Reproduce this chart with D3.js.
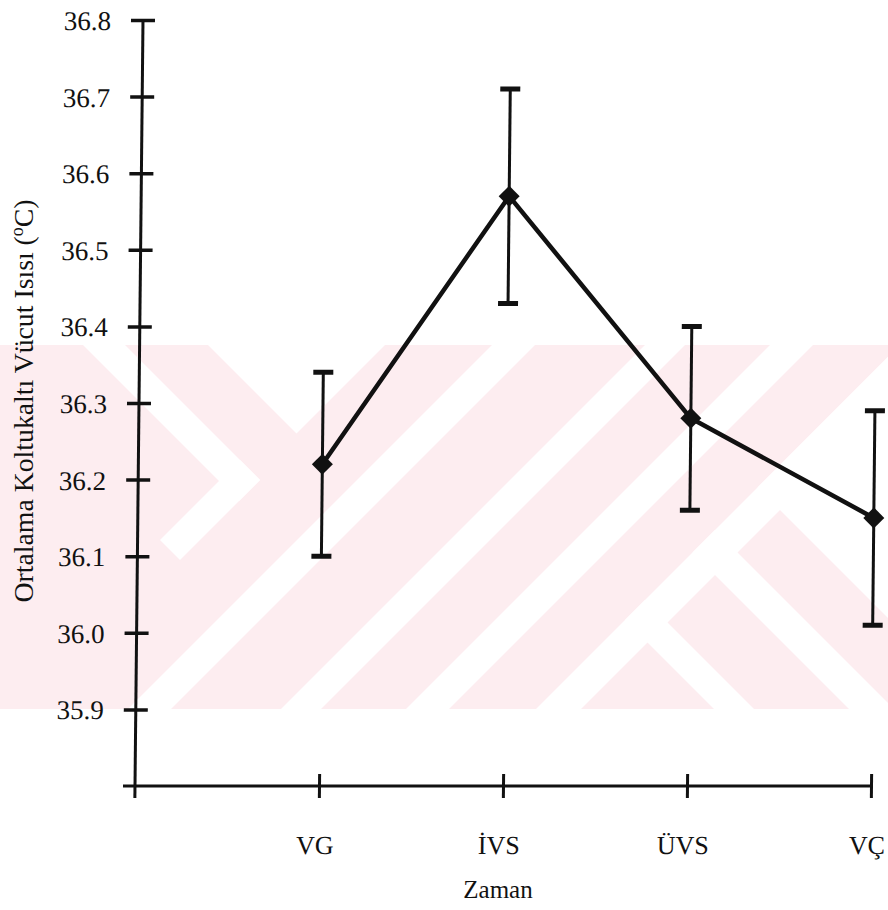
<!DOCTYPE html>
<html>
<head>
<meta charset="utf-8">
<script src="https://cdn.jsdelivr.net/npm/d3@7"></script>
<style>
html,body{margin:0;padding:0;background:#fff;}
svg{display:block;}
text{font-family:"Liberation Serif","Times New Roman",serif;fill:#111;}
</style>
</head>
<body>
<svg id="chart" width="888" height="910"></svg>
<script>
// ---- data ----
const categories = ["VG", "İVS", "ÜVS", "VÇ"];
const means = [36.22, 36.57, 36.28, 36.15];
const errors = [0.12, 0.14, 0.12, 0.14];
const yTicks = [35.9, 36.0, 36.1, 36.2, 36.3, 36.4, 36.5, 36.6, 36.7, 36.8];
const yLabels = ["35.9", "36.0", "36.1", "36.2", "36.3", "36.4", "36.5", "36.6", "36.7", "36.8"];
const xTitle = "Zaman";
const yTitle = "Ortalama Koltukaltı Vücut Isısı (";

const svg = d3.select("#chart");
const W = 888, H = 910;

// ---- watermark (background) ----
const bandTop = 345, bandBot = 709;
svg.append("defs").append("clipPath").attr("id", "band")
  .append("rect").attr("x", 0).attr("y", bandTop).attr("width", W).attr("height", bandBot - bandTop);
const wm = svg.append("g").attr("clip-path", "url(#band)");
wm.append("rect").attr("x", 0).attr("y", bandTop).attr("width", W).attr("height", bandBot - bandTop)
  .attr("fill", "#fdedf0");
// white stripes described as rectangles in (s = x+y, d = y-x) space
const stripes = [
  [[-2000, 730], [-2000, 137]],
  [[-2000, 740], [220, 262]],
  [[700, 740], [220, 380]],
  [[837, 880], [-3000, 3000]],
  [[990, 1030], [-3000, 3000]],
  [[1115, 1158], [-3000, 3000]],
  [[1245, 1290], [-3000, 3000]],
  [[1245, 4000], [-3000, -270]],
  [[1245, 4000], [-185, -140]],
  [[1245, 4000], [-45, -5]]
];
const sd = (s, d) => [(s - d) / 2, (s + d) / 2];
wm.selectAll("polygon").data(stripes).join("polygon")
  .attr("fill", "#ffffff")
  .attr("points", r => [sd(r[0][0], r[1][0]), sd(r[0][1], r[1][0]), sd(r[0][1], r[1][1]), sd(r[0][0], r[1][1])]
    .map(p => p.join(",")).join(" "));

// ---- chart (slightly sheared like the scan) ----
const k = 8 / 766, y0 = 786;
const g = svg.append("g").attr("transform", `translate(${k * y0},0) skewX(${-Math.atan(k) * 180 / Math.PI})`);

const x = d3.scaleLinear().domain([0, 4]).range([135, 871]);
const y = d3.scaleLinear().domain([35.8, 36.8]).range([786, 20]);
const ink = "#111";

// y axis
const ya = g.append("g").attr("transform", `translate(${x(0)},0)`)
  .call(d3.axisLeft(y).tickValues(yTicks).tickFormat((d, i) => yLabels[i]).tickSize(0).tickPadding(32));
ya.select(".domain").remove();
ya.selectAll(".tick text").attr("font-size", 27).attr("font-family", "Liberation Serif").attr("fill", ink).attr("dy", "0.35em");
ya.selectAll(".tick").append("line").attr("x1", -12).attr("x2", 12).attr("stroke", ink).attr("stroke-width", 3.5);
g.append("line").attr("x1", x(0)).attr("x2", x(0)).attr("y1", y(36.8)).attr("y2", y(35.8) + 12)
  .attr("stroke", ink).attr("stroke-width", 3);

// x axis
const xa = g.append("g").attr("transform", `translate(0,${y(35.8)})`)
  .call(d3.axisBottom(x).tickValues([1, 2, 3, 4]).tickFormat((d) => categories[d - 1]).tickSize(0).tickPadding(50));
xa.select(".domain").remove();
xa.selectAll(".tick text").attr("font-size", 26).attr("font-family", "Liberation Serif").attr("fill", ink).attr("dx", -4);
xa.selectAll(".tick").append("line").attr("y1", -12).attr("y2", 12).attr("stroke", ink).attr("stroke-width", 3);
g.append("line").attr("x1", x(0) - 12).attr("x2", x(4)).attr("y1", y(35.8)).attr("y2", y(35.8))
  .attr("stroke", ink).attr("stroke-width", 3);

// error bars
const pts = means.map((m, i) => ({ i: i + 1, m, e: errors[i] }));
const eb = g.append("g");
eb.selectAll("line.v").data(pts).join("line").attr("class", "v")
  .attr("x1", d => x(d.i)).attr("x2", d => x(d.i))
  .attr("y1", d => y(d.m + d.e)).attr("y2", d => y(d.m - d.e))
  .attr("stroke", ink).attr("stroke-width", 3);
eb.selectAll("line.cu").data(pts).join("line").attr("class", "cu")
  .attr("x1", d => x(d.i) - 10).attr("x2", d => x(d.i) + 10)
  .attr("y1", d => y(d.m + d.e)).attr("y2", d => y(d.m + d.e))
  .attr("stroke", ink).attr("stroke-width", 5);
eb.selectAll("line.cl").data(pts).join("line").attr("class", "cl")
  .attr("x1", d => x(d.i) - 10).attr("x2", d => x(d.i) + 10)
  .attr("y1", d => y(d.m - d.e)).attr("y2", d => y(d.m - d.e))
  .attr("stroke", ink).attr("stroke-width", 5);

// line
g.append("path").datum(pts)
  .attr("d", d3.line().x(d => x(d.i)).y(d => y(d.m)))
  .attr("fill", "none").attr("stroke", ink).attr("stroke-width", 4.5).attr("stroke-linejoin", "round");

// diamond markers
g.selectAll("path.mk").data(pts).join("path").attr("class", "mk")
  .attr("transform", d => `translate(${x(d.i)},${y(d.m)})`)
  .attr("d", "M0,-10.5L10.5,0L0,10.5L-10.5,0Z")
  .attr("fill", ink);

// axis titles
svg.append("text").attr("x", 498).attr("y", 898).attr("text-anchor", "middle")
  .attr("font-size", 25).text(xTitle);

const yt = svg.append("text")
  .attr("transform", "translate(33,401) rotate(-90)")
  .attr("text-anchor", "middle").attr("font-size", 28)
  .attr("textLength", 403).attr("lengthAdjust", "spacingAndGlyphs");
yt.append("tspan").text(yTitle);
yt.append("tspan").attr("font-size", 18).attr("dy", -10).text("o");
yt.append("tspan").attr("dy", 10).text("C)");
</script>
</body>
</html>
